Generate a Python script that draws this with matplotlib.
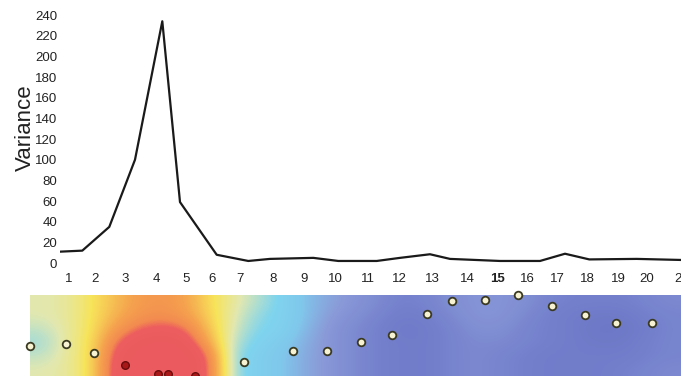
import matplotlib
matplotlib.use("Agg")
import matplotlib.pyplot as plt
import numpy as np
from matplotlib.colors import LinearSegmentedColormap

# transect distance (x) for the variance profile and its values
dist = [3.0, 5.23, 7.93, 10.5, 13.23, 15.0, 18.67, 21.83, 24.0, 28.33, 30.83,
        34.67, 37.0, 40.0, 42.0, 47.0, 51.0, 53.5, 55.93, 60.67, 65.0]
variance = [11, 12, 35, 100, 234, 59, 8, 2, 4, 5, 2,
            2, 5, 8.5, 4, 2, 2, 9, 3.5, 4, 3]

# station labels along the transect
station_pos = [3.83, 6.5, 9.5, 12.67, 15.6, 18.17, 21.0, 24.3, 27.4, 30.5, 33.75,
               36.9, 40.2, 43.7, 46.7, 49.7, 52.7, 55.7, 58.8, 61.7, 65.2]
station_lbl = [str(i) for i in range(1, 22)]

# sample points in the section below
pts_x = [0.0, 3.57, 6.43, 21.43, 26.3, 29.67, 33.07, 36.23, 39.73, 42.17,
         45.53, 48.83, 52.2, 55.5, 58.57, 62.17]
pts_y = [5.07, 4.9, 5.83, 6.67, 5.6, 5.6, 4.67, 4.0, 1.9, 0.6,
         0.5, 0.0, 1.07, 2.0, 2.8, 2.8]
hot_x = [9.5, 12.77, 13.83, 16.5]
hot_y = [7.0, 7.9, 7.9, 8.1]

# gridded section values (0 = low, 1 = high), rows top to bottom
field = [
    [0.52, 0.54, 0.61, 0.70, 0.78, 0.80, 0.76, 0.63, 0.54, 0.46, 0.38, 0.30, 0.24, 0.20,
     0.16, 0.12, 0.14, 0.18, 0.20, 0.20, 0.18, 0.14, 0.12, 0.12, 0.12, 0.14, 0.16],
    [0.52, 0.54, 0.61, 0.72, 0.80, 0.82, 0.78, 0.65, 0.52, 0.42, 0.38, 0.30, 0.22, 0.18,
     0.14, 0.10, 0.12, 0.16, 0.20, 0.20, 0.16, 0.12, 0.10, 0.08, 0.08, 0.12, 0.14],
    [0.48, 0.54, 0.61, 0.78, 0.87, 0.90, 0.87, 0.68, 0.50, 0.40, 0.38, 0.28, 0.20, 0.16,
     0.12, 0.08, 0.10, 0.14, 0.18, 0.18, 0.14, 0.12, 0.10, 0.06, 0.06, 0.10, 0.14],
    [0.44, 0.54, 0.62, 0.86, 0.96, 1.00, 0.94, 0.74, 0.46, 0.38, 0.34, 0.26, 0.20, 0.16,
     0.12, 0.10, 0.10, 0.14, 0.16, 0.16, 0.14, 0.12, 0.10, 0.08, 0.08, 0.12, 0.14],
    [0.48, 0.54, 0.62, 0.92, 1.00, 1.00, 1.00, 0.86, 0.42, 0.36, 0.32, 0.25, 0.20, 0.16,
     0.12, 0.10, 0.10, 0.14, 0.16, 0.14, 0.12, 0.10, 0.10, 0.10, 0.10, 0.12, 0.14],
    [0.52, 0.54, 0.62, 0.94, 1.00, 1.00, 1.00, 0.88, 0.42, 0.36, 0.32, 0.25, 0.20, 0.16,
     0.12, 0.10, 0.10, 0.14, 0.16, 0.14, 0.12, 0.10, 0.10, 0.10, 0.12, 0.14, 0.16],
]

cmap = LinearSegmentedColormap.from_list("section", [
    (0.0, "#6670c0"), (0.12, "#7480cc"), (0.22, "#8a9ad8"), (0.32, "#80c8ec"),
    (0.40, "#7fd4ee"), (0.52, "#e2e8b0"), (0.62, "#f7e45a"), (0.76, "#f5a24e"),
    (0.84, "#f28a50"), (0.88, "#ec5e5e"), (1.0, "#ea5a5e")])

W, H = 681, 376
fig = plt.figure(figsize=(W / 100, H / 100), dpi=100)
tick_font = ["Liberation Sans", "DejaVu Sans"]

# variance profile
ax = fig.add_axes([60 / W, (H - 265.1) / H, (683 - 60) / W, (265.1 - 9.9) / H])
ax.plot(dist, variance, color="#1a1a1a", lw=1.6)
ax.set_xlim(3.0, 65.3)
ax.set_ylim(-2, 245)
ax.set_yticks(range(0, 241, 20))
ax.set_xticks(station_pos)
ax.set_xticklabels(station_lbl)
for s in ax.spines.values():
    s.set_visible(False)
ax.tick_params(length=0, labelsize=9.5, colors="#222222")
ax.tick_params(axis="y", pad=2)
ax.tick_params(axis="x", pad=6)
for lbl in ax.get_xticklabels() + ax.get_yticklabels():
    lbl.set_family(tick_font)
ax.get_xticklabels()[14].set_fontweight("bold")
fig.text(25 / W, 1 - 128 / H, "Variance", rotation=90, ha="center", va="center",
         fontsize=16, family=["Liberation Sans", "DejaVu Sans"], color="#222222")

# section below
ax2 = fig.add_axes([30 / W, 0, (681 - 30) / W, (376 - 295) / H])
ax2.imshow(np.array(field), cmap=cmap, vmin=0, vmax=1, aspect="auto",
           interpolation="bicubic", extent=(0, 65.1, 8.1, 0))
ax2.scatter(pts_x, pts_y, s=30, c="#f6f2d2", edgecolors="#3a3a22", linewidths=1.3,
            zorder=3, clip_on=False)
ax2.scatter(hot_x, hot_y, s=30, c="#a81818", edgecolors="#6a0c0c", linewidths=1.0,
            zorder=3, clip_on=False)
ax2.set_xlim(0, 65.1)
ax2.set_ylim(8.1, 0)
ax2.axis("off")

fig.savefig("out.png", dpi=100)
